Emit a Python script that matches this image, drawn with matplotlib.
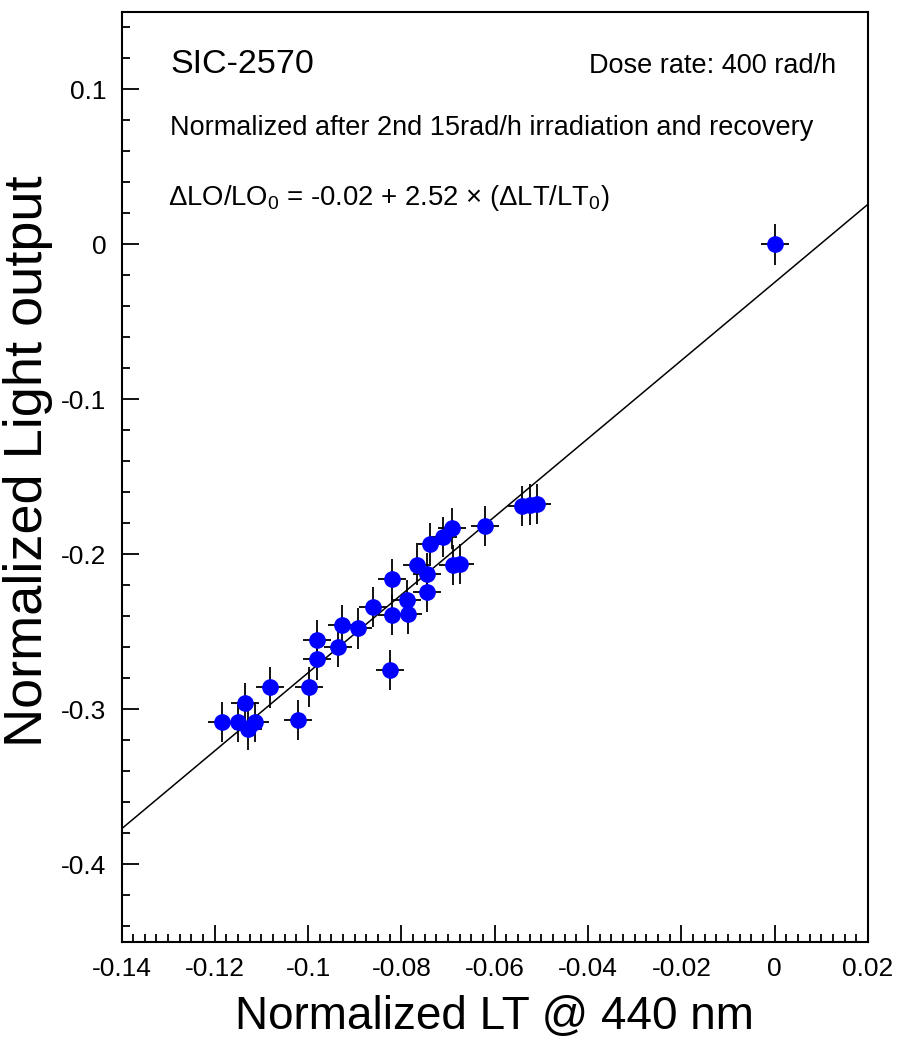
import numpy as np
import matplotlib
matplotlib.use("Agg")
import matplotlib.pyplot as plt
from matplotlib.ticker import MultipleLocator, FixedLocator

plt.rcParams["font.family"] = ["Liberation Sans", "DejaVu Sans"]
plt.rcParams["axes.unicode_minus"] = False
plt.rcParams["mathtext.fontset"] = "custom"
plt.rcParams["mathtext.rm"] = "Liberation Sans"
plt.rcParams["mathtext.default"] = "regular"

# datos
lt = [-0.0621, -0.0692, -0.0710, -0.0739, -0.0767, -0.0746, -0.0689, -0.0675,
      -0.0821, -0.0746, -0.0789, -0.0785, -0.0860, -0.0821, -0.0928, -0.0893,
      -0.0982, -0.0935, -0.0982, -0.0825, -0.1082, -0.0998, -0.1135, -0.1185,
      -0.1150, -0.1128, -0.1114, -0.1021, -0.0542, -0.0525, -0.0510, 0.0]
lo = [-0.1819, -0.1834, -0.1888, -0.1931, -0.2071, -0.2125, -0.2071, -0.2065,
      -0.2163, -0.2243, -0.2297, -0.2383, -0.2340, -0.2394, -0.2458, -0.2479,
      -0.2555, -0.2598, -0.2679, -0.2748, -0.2860, -0.2856, -0.2963, -0.3082,
      -0.3082, -0.3131, -0.3082, -0.3071, -0.1690, -0.1680, -0.1677, 0.0]
lt_err = 0.003
lo_err = 0.013
p0 = -0.0245
p1 = 2.52

W, H = 897, 1051
fig = plt.figure(figsize=(W / 100, H / 100), dpi=100)
ax = fig.add_axes([121.5 / W, 1 - 941.5 / H, (868 - 121.5) / W, (941.5 - 12) / H])

xf = np.array([-0.14, 0.02])
ax.plot(xf, p0 + p1 * xf, color="black", lw=1.1, zorder=2)

ax.errorbar(lt, lo, xerr=lt_err, yerr=lo_err, fmt="none", ecolor="black",
            elinewidth=1.3, capsize=0, zorder=3)
ax.plot(lt, lo, "o", color="#0000ff", ms=11, mec="#0000ff", zorder=4)

ax.set_xlim(-0.14, 0.02)
ax.set_ylim(-0.45, 0.15)

ax.xaxis.set_major_locator(MultipleLocator(0.02))
ax.xaxis.set_minor_locator(MultipleLocator(0.0025))
ax.yaxis.set_major_locator(FixedLocator([-0.4, -0.3, -0.2, -0.1, 0, 0.1]))
ax.yaxis.set_minor_locator(MultipleLocator(0.02))
ax.xaxis.set_major_formatter(plt.FuncFormatter(lambda v, p: "%g" % round(v, 3)))
ax.yaxis.set_major_formatter(plt.FuncFormatter(lambda v, p: "%g" % round(v, 3)))

ax.tick_params(which="both", direction="in", top=False, right=False,
               width=1.3, labelsize=19)
ax.tick_params(which="major", length=12, pad=11)
ax.tick_params(which="minor", length=6)
for s in ax.spines.values():
    s.set_linewidth(1.5)

ax.set_xlabel("Normalized LT @ 440 nm", fontsize=33, labelpad=10)
ax.set_ylabel("Normalized Light output", fontsize=39)
ax.yaxis.set_label_coords(-0.092, 0.517)

def px(x, y):
    return x / W, 1 - y / H

fig.text(*px(170, 73), "SIC-2570", fontsize=24.5, va="baseline", ha="left")
fig.text(*px(836, 73), "Dose rate: 400 rad/h", fontsize=19.5, va="baseline", ha="right")
fig.text(*px(170, 135), "Normalized after 2nd 15rad/h irradiation and recovery",
         fontsize=19.5, va="baseline", ha="left")
fig.text(*px(168, 205), r"ΔLO/LO$_0$ = -0.02 + 2.52 × (ΔLT/LT$_0$)",
         fontsize=19.8, va="baseline", ha="left")

fig.savefig("out.png", dpi=100)
